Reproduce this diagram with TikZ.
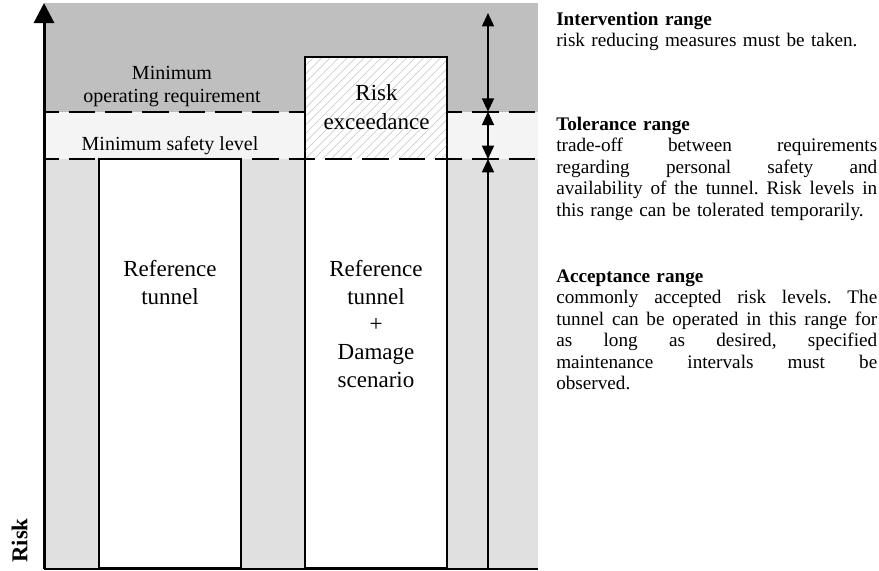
\documentclass[tikz,border=0pt]{standalone}
\usepackage{fontspec}
\setmainfont{Liberation Serif}
\usetikzlibrary{arrows.meta}
\definecolor{bandtop}{HTML}{BFBFBF}
\definecolor{bandmid}{HTML}{F4F4F4}
\definecolor{bandlow}{HTML}{E0E0E0}
\definecolor{hatchgray}{HTML}{C4C4C4}
\newlength{\colw}
\setlength{\colw}{240.75pt}
\newcommand{\jline}[1]{\leavevmode\hbox to\colw{#1}}
\begin{document}
\frenchspacing
\begin{tikzpicture}[x=0.75pt,y=-0.75pt,
  limitline/.style={line width=1.7pt, dash pattern=on 20pt off 7.5pt, dash phase=9pt},
  boxline/.style={line width=1pt, draw=black},
  dimtip/.tip={Triangle[length=10pt,width=9pt]},
  dimline/.style={line width=1.2pt},
  desc/.style={anchor=north west, inner sep=0pt, text width=\colw, align=left,
    font=\fontsize{14.4pt}{16.1pt}\selectfont},
  boxtext/.style={anchor=north, inner sep=0pt, align=center,
    font=\fontsize{17.25pt}{20.8pt}\selectfont},
  lvltext/.style={inner sep=0pt, align=center,
    font=\fontsize{15pt}{17.25pt}\selectfont}
]
\useasboundingbox (0,0) rectangle (879,571);
\fill[white] (0,0) rectangle (879,571);
% bands
\fill[bandtop] (44,3) rectangle (538,111.7);
\fill[bandmid] (44,111.7) rectangle (538,159);
\fill[bandlow] (44,159) rectangle (538,569);
% limit coordinates
\coordinate (l1a) at (44,111.7);
\coordinate (l1b) at (538,111.7);
\coordinate (l2a) at (44,159);
\coordinate (l2b) at (538,159);
\draw[limitline] (l1a) -- (l1b);
% reference tunnel box
\draw[boxline, fill=white] (99,159) rectangle (241,568);
% damage scenario box with risk exceedance
\fill[white] (305,57) rectangle (447,568);
\begin{scope}
  \clip (305,57) rectangle (447,159);
  \foreach \i in {0,...,30}
    \draw[hatchgray, line width=0.45pt] (195+\i*8.5,159) -- ++(110,-110);
\end{scope}
\draw[boxline] (305,57) rectangle (447,568);
\draw[limitline] (l2a) -- (l2b);
% dimension arrows
\coordinate (dtop) at (488,13);
\coordinate (dm1) at (488,111.7);
\coordinate (dm2) at (488,159);
\coordinate (dbot) at (488,568);
\draw[dimline, {dimtip}-{dimtip}] (dtop) -- (dm1);
\draw[dimline, {dimtip}-{dimtip}] (dm1) -- (dm2);
\draw[dimline, -{dimtip}] (dbot) -- (dm2);
% axes
\coordinate (origin) at (44,569);
\coordinate (ytop) at (44,3);
\coordinate (xend) at (538,569);
\draw[line width=1.5pt] (origin) -- (xend);
\draw[line width=2.25pt, -{Triangle[length=15pt,width=15pt]}] (origin) -- (ytop);
% labels
\node[rotate=90, inner sep=0pt, font=\bfseries\fontsize{17pt}{19pt}\selectfont] (risk) at (19.5,540.5) {Risk};
\node[lvltext, anchor=north] (minop) at (172,62.9) {\strut Minimum\\operating requirement};
\node[lvltext, anchor=base] (minsafe) at (170,150) {Minimum safety level};
\node[boxtext, font=\fontsize{17.25pt}{21.45pt}\selectfont] (exceed) at (376.5,80.7) {\strut Risk\\exceedance};
\node[boxtext] (ref) at (170,256.6) {\strut Reference\\tunnel};
\node[boxtext] (refdam) at (376,256.6) {\strut Reference\\tunnel\\+\\Damage\\scenario};
% right column
\node[desc] (interv) at (556,10) {\strut\textbf{Intervention range}\\
risk reducing measures must be taken.};
\node[desc] (toler) at (556,115) {\strut\textbf{Tolerance range}\\
\jline{trade-off\hfill between\hfill requirements}\\
\jline{regarding\hfill personal\hfill safety\hfill and}\\
\jline{availability\hfill of\hfill the\hfill tunnel.\hfill Risk\hfill levels\hfill in}\\
this range can be tolerated temporarily.};
\node[desc] (accept) at (556,267) {\strut\textbf{Acceptance range}\\
\jline{commonly\hfill accepted\hfill risk\hfill levels.\hfill The}\\
\jline{tunnel\hfill can\hfill be\hfill operated\hfill in\hfill this\hfill range\hfill for}\\
\jline{as\hfill long\hfill as\hfill desired,\hfill specified}\\
\jline{maintenance\hfill intervals\hfill must\hfill be}\\
observed.};
\end{tikzpicture}
\end{document}
